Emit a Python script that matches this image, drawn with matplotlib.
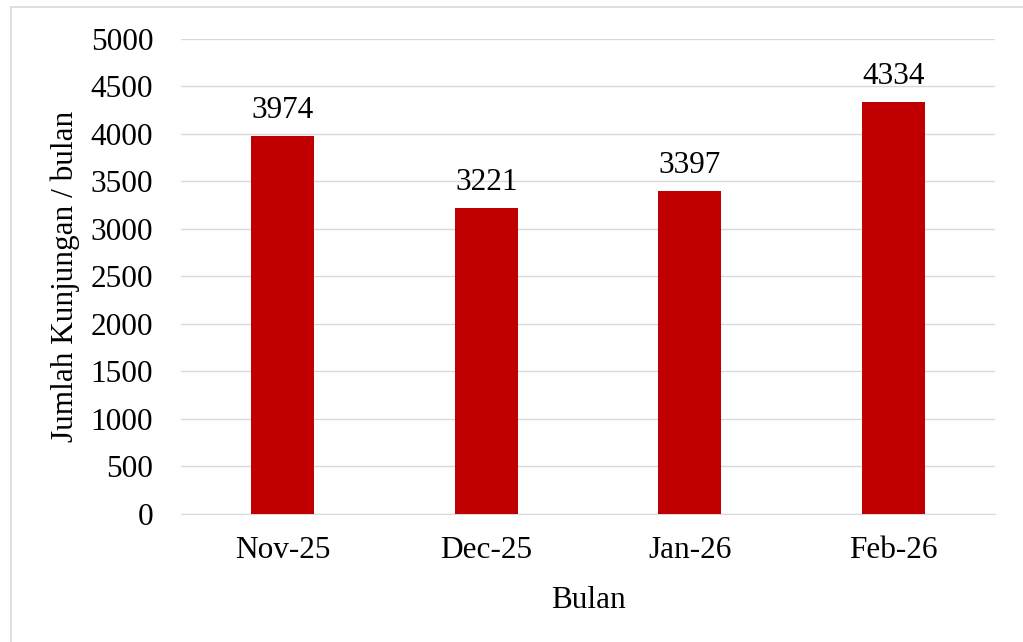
import matplotlib
matplotlib.use("Agg")
import matplotlib.pyplot as plt
from matplotlib.lines import Line2D

categories = ["Nov-25", "Dec-25", "Jan-26", "Feb-26"]
values = [3974, 3221, 3397, 4334]
yticks = [0, 500, 1000, 1500, 2000, 2500, 3000, 3500, 4000, 4500, 5000]

plt.rcParams['font.family'] = ['Liberation Serif', 'DejaVu Serif']
FS = 22.5
W, H = 1023, 642

fig = plt.figure(figsize=(W / 100, H / 100), dpi=100)
ax = fig.add_axes([181 / W, 1 - 514 / H, 814 / W, 475.5 / H])

x = list(range(len(categories)))
ax.bar(x, values, width=0.31, color="#C00000", zorder=3)
for xi, v in zip(x, values):
    ax.annotate(str(v), (xi, v), xytext=(0, 13), textcoords="offset points",
                ha="center", va="baseline", fontsize=FS)

ax.set_xlim(-0.5, len(categories) - 0.5)
ax.set_ylim(0, 5000)
ax.set_yticks(yticks)
ax.set_yticklabels([str(t) for t in yticks], fontsize=FS)
ax.set_xticks(x)
ax.set_xticklabels(categories, fontsize=FS)
ax.tick_params(axis="y", length=0, pad=20)
ax.tick_params(axis="x", length=0, pad=16)
ax.grid(axis="y", color="#D9D9D9", linewidth=1, zorder=0)
for s in ["top", "right", "left"]:
    ax.spines[s].set_visible(False)
ax.spines["bottom"].set_color("#D9D9D9")

fig.text(588 / W, 1 - 608 / H, "Bulan", ha="center", va="baseline", fontsize=FS)
fig.text(65 / W, 1 - 276 / H, "Jumlah Kunjungan / bulan", rotation=90,
         ha="center", va="center", fontsize=FS)

fig.add_artist(Line2D([11 / W, 1], [1 - 7 / H, 1 - 7 / H], transform=fig.transFigure,
                      color="#D9D9D9", linewidth=1.2))
fig.add_artist(Line2D([11 / W, 11 / W], [0, 1 - 7 / H], transform=fig.transFigure,
                      color="#D9D9D9", linewidth=1.2))

fig.savefig("out.png", dpi=100)
